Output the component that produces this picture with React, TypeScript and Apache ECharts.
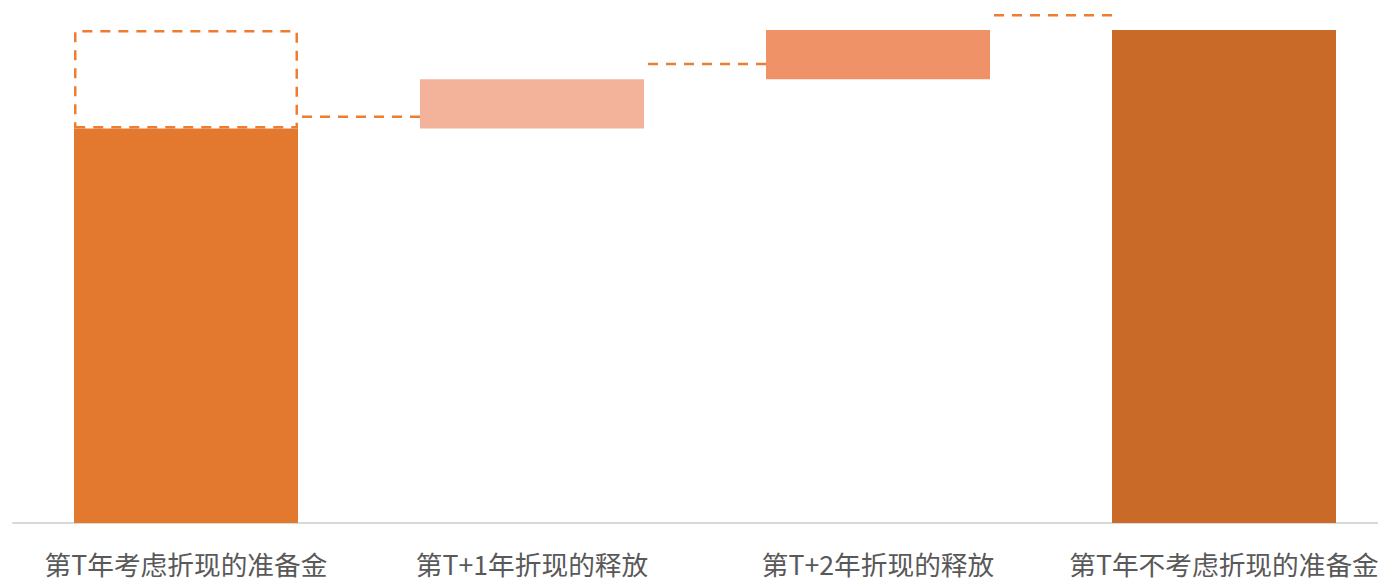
import React, { useEffect, useRef } from "react";
import * as echarts from "echarts";

const categories = ["第T年考虑折现的准备金", "第T+1年折现的释放", "第T+2年折现的释放", "第T年不考虑折现的准备金"];
const baseValues = [0, 80, 90, 0];
const barValues = [80, 10, 10, 100];
const dashedBoxValues = [20, 0, 0, 0];
const connectorLevels = [82.4, 93.1, 103];
const barColors = ["#E2792E", "#F2B39A", "#F09267", "#C96A28"];

export default function App() {
  const ref = useRef<HTMLDivElement>(null);
  useEffect(() => {
    const chart = echarts.init(ref.current!, null, { renderer: "svg" });
    const barWidth = 224;
    chart.setOption({
      animation: false,
      grid: { left: 13, width: 1384, top: 5.35, bottom: 56, containLabel: false },
      xAxis: {
        type: "category",
        data: categories,
        axisLine: { lineStyle: { color: "#D9D9D9", width: 2 } },
        axisTick: { show: false },
        axisLabel: {
          color: "#595959",
          fontSize: 26.7,
          lineHeight: 26,
          margin: 27,
          fontFamily: "'Noto Sans CJK SC', sans-serif",
          interval: 0,
        },
      },
      yAxis: { type: "value", min: 0, max: 105, show: false, splitLine: { show: false } },
      series: [
        {
          type: "bar",
          stack: "w",
          barWidth,
          data: baseValues,
          itemStyle: { color: "transparent" },
          silent: true,
        },
        {
          type: "bar",
          stack: "w",
          barWidth,
          data: barValues.map((v, i) => ({ value: v, itemStyle: { color: barColors[i] } })),
        },
        {
          type: "bar",
          stack: "w",
          barWidth,
          data: dashedBoxValues.map((v) => (v ? v : "-")),
          itemStyle: {
            color: "rgba(0,0,0,0)",
            borderColor: "#ED7D31",
            borderWidth: 2.5,
            borderType: [10, 8],
          },
        },
        {
          type: "custom",
          clip: false,
          data: connectorLevels.map((v, i) => [i, v]),
          renderItem: (params: any, api: any) => {
            const i = api.value(0);
            const y = api.value(1);
            const p1 = api.coord([i, y]);
            const p2 = api.coord([i + 1, y]);
            return {
              type: "line",
              shape: { x1: p1[0] + barWidth / 2 + 4, y1: p1[1], x2: p2[0] - barWidth / 2, y2: p2[1] },
              style: { stroke: "#ED7D31", lineWidth: 2.5, lineDash: [10, 8] },
            };
          },
        },
      ],
    });
    return () => chart.dispose();
  }, []);
  return (
    <div style={{ position: "absolute", left: 0, top: 0, width: 1378, height: 579, overflow: "hidden" }}>
      <div ref={ref} style={{ width: 1400, height: 579 }} />
    </div>
  );
}
